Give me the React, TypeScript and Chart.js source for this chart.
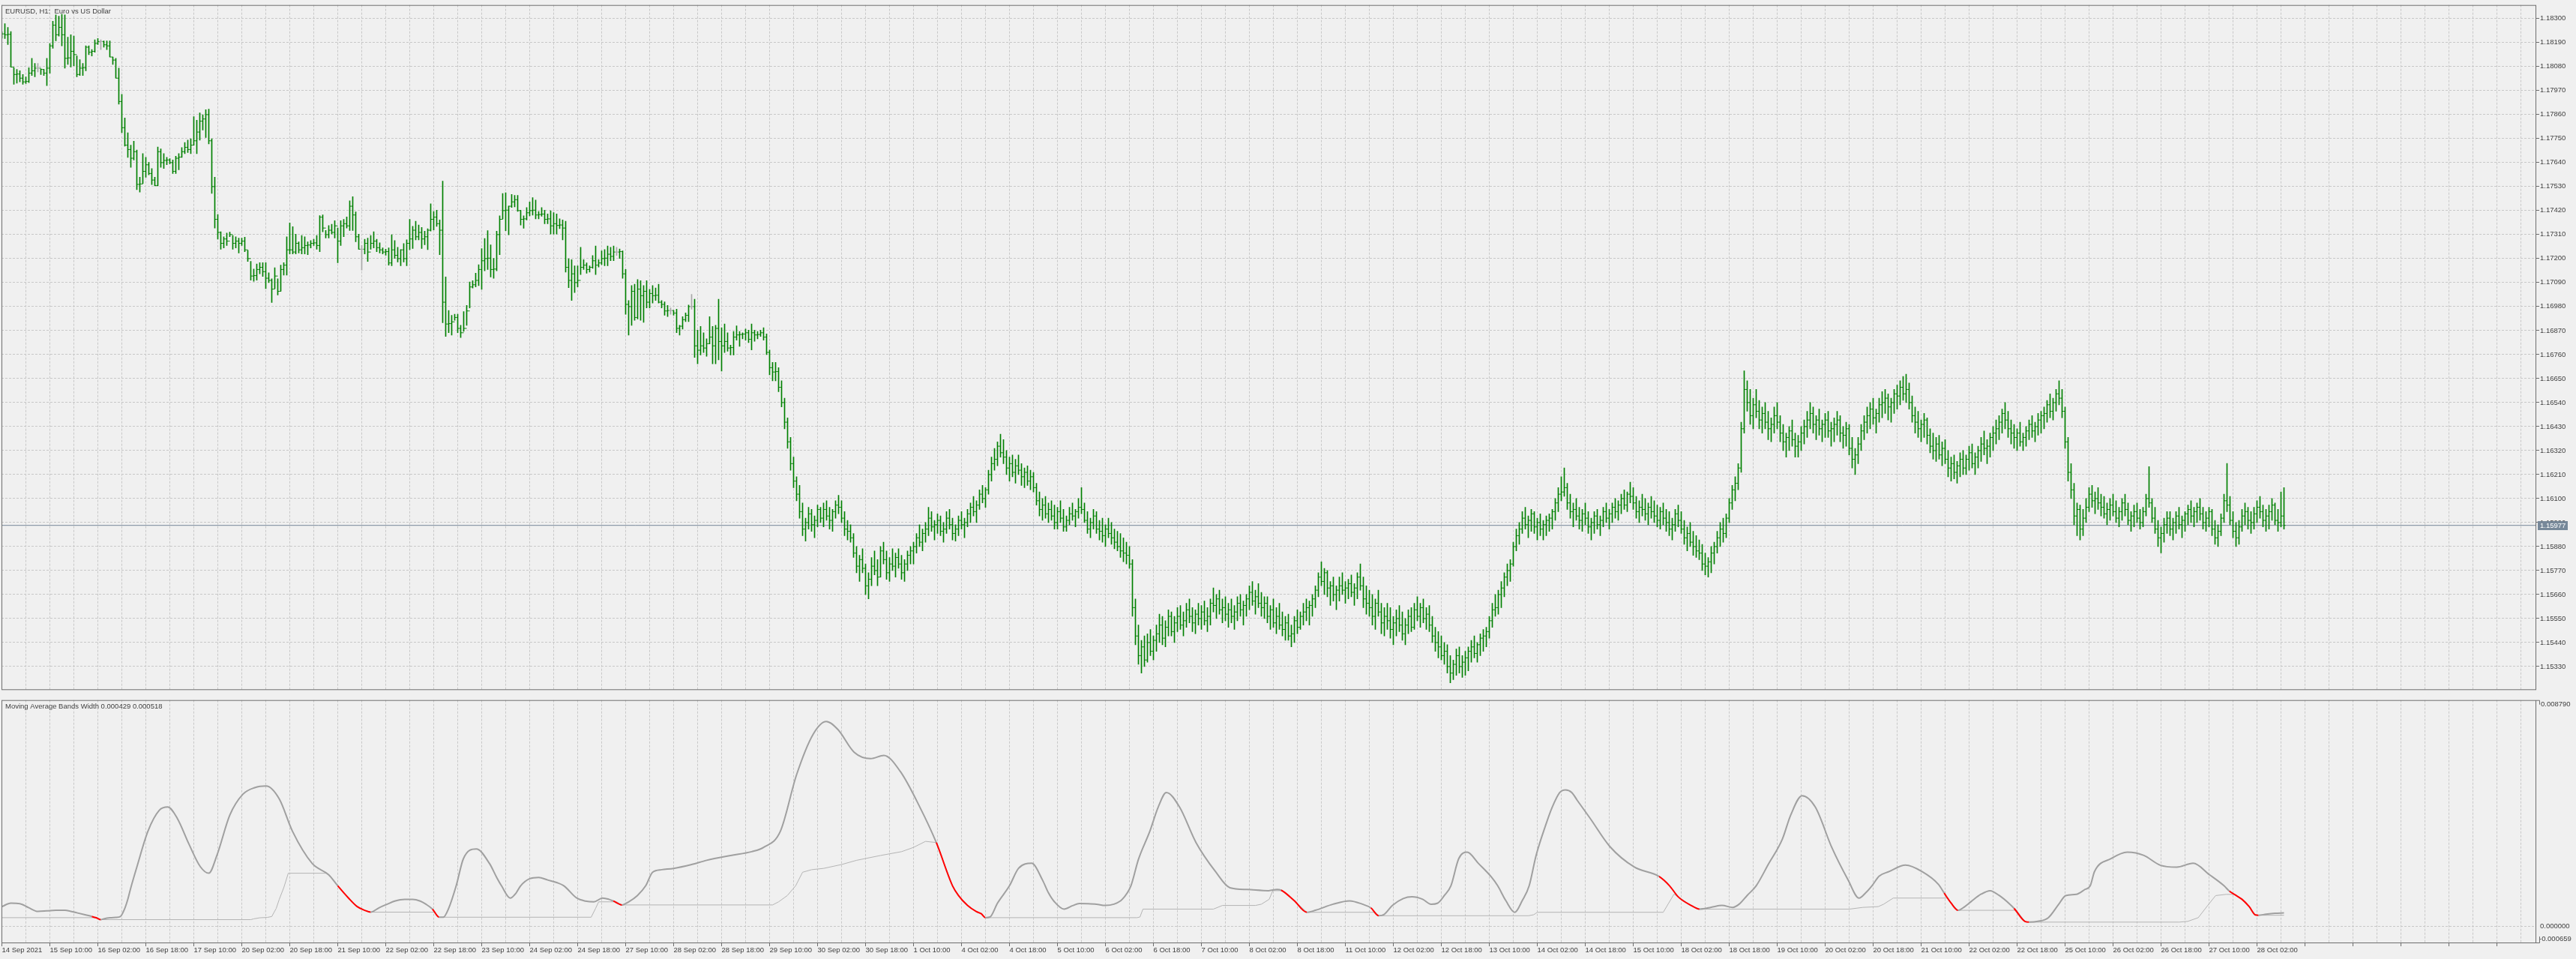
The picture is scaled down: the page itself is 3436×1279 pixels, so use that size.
import React, { useEffect, useRef } from "react";
import { Chart, registerables } from "chart.js";
Chart.register(...registerables);

const FONT = "'Liberation Sans', Arial, sans-serif";
const BG = "#f0f0f0";
const FRAME = "#6e6e6e";
const GRID = "#c8c8c8";
const TEXT = "#404040";
const BAR = "#008000";
const DOJI = "#a8a8a8";

// bar prices are stored in points (0.00001) above 1.15000; one bar per hour from 14 Sep 18:00
const BASE = 1.15;
const highs = [3240,3277,3260,3241,3075,3067,3061,3044,3033,3075,3118,3095,3095,3070,3067,3118,3186,3288,3317,3311,3320,3317,3215,3226,3220,3129,3112,3095,3175,3175,3158,3203,3209,3203,3198,3198,3198,3124,3118,3073,2953,2845,2777,2720,2738,2698,2573,2681,2664,2641,2613,2573,2711,2703,2681,2664,2658,2652,2669,2681,2709,2732,2743,2749,2851,2834,2868,2859,2882,2885,2749,2573,2402,2323,2300,2317,2321,2306,2300,2294,2294,2298,2238,2187,2152,2175,2181,2181,2181,2135,2107,2158,2107,2170,2181,2300,2363,2346,2312,2277,2306,2300,2277,2283,2289,2306,2397,2400,2329,2351,2357,2374,2340,2374,2380,2391,2465,2484,2414,2312,2260,2289,2294,2306,2323,2289,2272,2249,2243,2249,
2309,2283,2252,2241,2269,2286,2380,2348,2371,2354,2343,2326,2337,2451,2416,2422,2377,2555,2116,1962,1940,1945,1945,1894,1957,1985,2093,2099,2133,2172,2246,2292,2328,2263,2201,2326,2396,2498,2502,2441,2494,2490,2490,2422,2396,2434,2460,2479,2468,2416,2434,2422,2405,2419,2411,2405,2382,2377,2371,2199,2195,2167,2167,2252,2195,2180,2167,2214,2258,2195,2235,2241,2258,2252,2258,2252,2244,2235,2150,2008,2076,2082,2104,2099,2076,2099,2059,2076,2065,2082,2008,2002,1985,1974,1962,1968,1894,1934,1951,1987,2036,2014,1872,1889,1860,1832,1934,1889,1894,2014,1883,1900,1860,1803,1866,1892,1866,1860,1877,1872,1900,1872,1866,1872,1883,1855,1781,1724,1724,
1700,1640,1560,1470,1380,1290,1200,1160,1080,1010,1060,1050,1020,1070,1060,1080,1090,1060,1050,1090,1115,1090,1040,1000,980,940,880,840,870,800,760,830,860,820,880,900,860,830,870,850,870,840,820,860,880,900,940,980,960,990,1060,1040,1000,1030,1020,990,1040,1050,1010,980,1020,1040,1010,1050,1080,1110,1090,1140,1160,1150,1230,1290,1330,1360,1395,1370,1320,1290,1300,1280,1300,1260,1240,1250,1230,1220,1170,1130,1100,1110,1080,1090,1070,1060,1090,1050,1020,1060,1080,1050,1100,1150,1080,1040,1010,1050,1040,1000,1010,980,1010,990,960,950,940,920,900,880,820,640,520,450,470,480,500,470,520,570,560,540,590,580,560,
600,610,580,620,640,600,590,620,610,630,600,640,690,660,680,640,650,620,640,610,650,660,630,660,700,720,680,710,670,650,650,610,640,600,620,580,560,570,520,560,590,580,620,640,630,660,700,760,810,780,770,720,740,700,740,760,720,730,750,710,760,800,740,700,680,660,640,680,620,600,620,600,560,590,610,580,550,590,600,620,650,620,640,600,610,560,510,490,470,440,430,380,360,410,420,380,400,420,450,470,440,480,500,510,560,620,660,680,720,760,800,820,900,960,990,1040,1060,1020,1050,1040,1010,1030,1000,1020,1030,1050,1100,1150,1200,1240,1170,1120,1080,1100,1060,1050,1080,1040,1010,1040,1050,1020,1060,1080,1050,1080,1100,1090,1120,1140,1130,1175,1150,
1110,1090,1120,1100,1080,1110,1090,1070,1060,1080,1050,1040,1010,1050,1070,1040,1000,970,990,950,930,910,890,850,830,880,900,950,990,1010,1030,1100,1160,1200,1260,1450,1685,1640,1600,1560,1600,1550,1520,1540,1500,1470,1520,1540,1480,1440,1400,1430,1460,1400,1390,1430,1460,1500,1540,1520,1480,1510,1460,1490,1500,1450,1470,1500,1480,1430,1450,1440,1380,1330,1380,1440,1480,1520,1540,1560,1510,1560,1590,1600,1580,1560,1600,1620,1640,1660,1670,1630,1570,1520,1500,1460,1490,1470,1420,1400,1380,1390,1360,1370,1320,1290,1300,1270,1310,1320,1300,1340,1350,1310,1340,1380,1410,1370,1400,1430,1460,1480,1510,1540,1500,1460,1440,1420,1450,1400,1430,1460,1480,1450,1490,1500,1520,1550,1580,1560,1600,1640,1600,
1520,1380,1260,1170,1080,1070,1050,1100,1150,1160,1130,1150,1120,1110,1080,1100,1120,1090,1060,1100,1120,1080,1040,1070,1080,1050,1060,1120,1246,1100,1060,1000,970,1010,1040,1040,1010,1040,1060,1020,1040,1070,1090,1060,1080,1100,1060,1040,1060,1050,1000,980,1030,1120,1261,1110,1040,990,1000,1050,1080,1060,1040,1060,1090,1110,1070,1050,1070,1100,1080,1050,1130,1150];
const lows = [3210,3209,3181,3078,2999,3004,3010,2999,3002,3007,3039,3033,3056,3044,3039,2993,3050,3164,3198,3220,3175,3073,3090,3078,3084,3033,3039,3039,3061,3135,3129,3146,3181,3158,3169,3158,3124,3090,3027,2908,2777,2715,2664,2618,2652,2516,2505,2544,2573,2584,2539,2533,2533,2618,2613,2630,2635,2590,2590,2607,2664,2681,2686,2681,2720,2681,2743,2789,2755,2726,2499,2340,2289,2243,2249,2260,2300,2243,2249,2226,2260,2232,2187,2101,2096,2101,2130,2118,2062,2090,1999,2062,2033,2050,2124,2124,2221,2221,2221,2226,2221,2221,2218,2249,2260,2243,2232,2323,2294,2294,2312,2294,2181,2260,2300,2340,2329,2329,2277,2243,2147,2221,2187,2243,2249,2232,2226,2221,2215,2170,
2167,2201,2184,2167,2184,2167,2241,2246,2286,2286,2246,2263,2241,2326,2331,2348,2218,1906,1843,1860,1849,1917,1860,1838,1866,1894,1974,2065,2070,2076,2059,2144,2150,2116,2110,2144,2218,2382,2328,2309,2434,2437,2416,2354,2339,2377,2396,2399,2382,2382,2394,2360,2360,2312,2312,2312,2337,2286,2138,2067,2008,2044,2070,2127,2150,2133,2138,2155,2127,2161,2172,2167,2167,2190,2190,2214,2201,2110,1945,1849,1894,1917,1923,1917,1908,1974,1974,1996,2008,1996,1974,1940,1934,1945,1940,1860,1849,1877,1911,1911,1968,1747,1718,1758,1769,1752,1809,1718,1718,1736,1684,1769,1775,1758,1758,1826,1798,1832,1826,1815,1781,1821,1832,1843,1826,1760,1667,1640,1640,
1590,1520,1420,1330,1230,1150,1090,1010,930,905,960,950,920,970,990,970,1000,960,950,1010,1030,990,930,910,900,830,760,720,760,660,640,700,750,700,740,800,730,720,770,740,780,730,720,770,800,800,850,880,860,900,930,950,910,940,930,900,940,960,910,905,930,960,920,970,990,1020,990,1050,1080,1060,1120,1180,1230,1250,1290,1260,1210,1180,1200,1170,1210,1160,1150,1160,1140,1130,1070,1020,1000,1010,990,1000,960,960,990,950,950,980,1000,970,1010,1030,990,940,920,960,940,910,900,880,920,890,870,860,830,810,800,780,560,430,340,300,330,350,380,360,400,440,430,420,470,470,440,
490,500,470,510,530,490,480,520,500,520,490,520,580,550,570,530,540,510,530,500,540,560,520,560,590,610,570,600,560,550,530,500,510,480,500,470,450,450,420,440,480,500,520,540,520,560,600,650,700,660,650,610,630,590,630,660,620,640,650,610,640,680,600,570,560,520,500,560,480,470,500,460,430,470,490,450,430,480,490,500,540,510,530,500,490,440,400,370,360,340,300,255,270,290,300,280,290,310,350,370,350,380,400,420,460,510,560,570,600,650,700,720,790,860,890,940,960,920,950,940,910,930,910,930,950,960,1000,1040,1090,1110,1050,1010,970,1000,960,950,980,940,910,940,960,930,970,990,960,990,1010,1000,1030,1050,1040,1080,1050,
1010,990,1020,1000,980,1010,990,970,960,980,950,930,910,950,970,940,890,860,880,840,830,820,770,750,740,760,800,850,880,900,920,990,1050,1090,1140,1220,1400,1500,1440,1420,1470,1420,1400,1420,1370,1360,1400,1420,1360,1320,1290,1320,1340,1290,1290,1320,1350,1380,1420,1400,1370,1390,1360,1380,1380,1340,1360,1390,1360,1330,1340,1300,1240,1210,1260,1320,1370,1400,1420,1440,1400,1450,1470,1490,1460,1450,1490,1510,1530,1550,1540,1510,1450,1400,1380,1360,1380,1350,1310,1280,1270,1280,1250,1260,1200,1180,1190,1170,1200,1210,1210,1230,1240,1210,1240,1270,1300,1260,1290,1320,1350,1370,1400,1420,1380,1350,1330,1320,1340,1320,1340,1370,1380,1360,1390,1400,1420,1450,1470,1460,1500,1530,1470,
1330,1180,1100,980,930,910,930,990,1040,1060,1030,1050,1020,1010,980,1000,1020,990,970,1000,1020,980,950,970,990,960,970,1020,1060,990,940,880,851,900,940,930,910,940,960,920,950,980,990,970,990,1000,960,950,970,930,890,880,930,990,1040,980,920,880,890,950,980,960,940,960,990,1010,970,950,960,1000,980,950,970,960];
const closes = [3230,3226,3228,3078,3044,3046,3027,3010,3012,3050,3061,3073,3073,3067,3050,3073,3175,3270,3226,3260,3226,3118,3120,3150,3135,3044,3073,3075,3169,3146,3150,3186,3195,3195,3180,3175,3124,3110,3027,2920,2800,2720,2700,2660,2690,2540,2542,2600,2630,2590,2560,2535,2690,2640,2650,2652,2640,2600,2660,2665,2690,2710,2700,2720,2740,2780,2830,2840,2860,2740,2530,2380,2320,2270,2290,2280,2310,2270,2280,2270,2280,2240,2200,2120,2122,2150,2160,2140,2110,2100,2060,2120,2050,2150,2170,2240,2240,2230,2270,2240,2250,2260,2262,2270,2272,2260,2390,2340,2310,2330,2320,2350,2280,2350,2360,2350,2440,2400,2300,2243,2243,2270,2230,2270,2280,2250,2240,2230,2232,2180,
2240,2215,2200,2240,2200,2270,2290,2330,2300,2320,2290,2300,2330,2380,2390,2360,2330,2000,1900,1902,1910,1930,1880,1860,1880,1960,2070,2080,2100,2150,2190,2200,2202,2150,2152,2310,2380,2420,2422,2440,2460,2470,2420,2380,2382,2410,2420,2422,2400,2402,2404,2380,2382,2350,2360,2352,2354,2340,2160,2100,2130,2090,2100,2160,2170,2150,2160,2190,2170,2180,2200,2202,2220,2210,2230,2230,2232,2130,1990,1980,2050,1930,2060,2030,2050,2000,2040,2030,2032,2000,1990,1960,1962,1962,1950,1880,1890,1920,1940,1980,1980,1800,1780,1800,1790,1810,1840,1800,1880,1820,1800,1820,1790,1792,1840,1850,1852,1854,1860,1830,1860,1850,1852,1860,1840,1770,1700,1680,1682,
1610,1540,1450,1360,1260,1180,1120,1040,960,990,1030,980,1000,1050,1010,1050,1020,1000,1040,1070,1060,1010,960,950,920,850,790,820,780,700,730,790,770,740,860,820,760,800,790,830,800,760,800,840,860,880,920,900,940,960,1010,970,980,1000,950,960,1010,980,940,960,1000,980,990,1030,1060,1040,1070,1120,1100,1140,1210,1260,1280,1340,1310,1290,1240,1260,1220,1250,1230,1200,1220,1180,1200,1150,1090,1050,1070,1030,1050,1020,990,1040,1010,970,1000,1030,1020,1040,1060,1050,1000,960,990,1020,960,950,930,960,940,920,900,880,860,850,840,800,600,470,380,420,360,440,400,450,480,520,460,510,560,490,530,
560,520,540,590,560,530,570,550,580,540,560,620,610,640,590,600,570,590,560,580,620,590,610,640,670,630,650,620,600,620,560,590,530,560,520,500,530,470,480,540,510,560,580,600,610,640,680,740,720,760,690,700,660,680,700,680,690,710,670,690,740,700,640,620,600,560,620,580,530,560,540,500,530,550,520,480,520,560,510,590,560,600,550,570,520,470,440,420,380,400,330,300,340,380,330,350,370,400,420,390,430,460,470,490,540,590,600,660,690,740,770,800,880,930,960,1010,980,1000,1030,970,990,960,980,1000,1010,1040,1080,1120,1130,1150,1080,1040,1050,1020,1000,1030,1010,970,990,1020,980,1000,1040,1010,1030,1060,1040,1070,1100,1070,1120,1110,1080,
1040,1060,1050,1030,1060,1040,1020,1000,1040,1010,990,960,980,1030,1000,960,920,940,900,880,860,850,800,790,810,850,880,920,960,940,1010,1080,1140,1170,1240,1420,1600,1540,1480,1530,1500,1460,1490,1450,1420,1440,1480,1450,1400,1360,1380,1410,1370,1340,1360,1400,1430,1460,1490,1440,1460,1420,1440,1460,1410,1420,1440,1460,1400,1390,1420,1330,1280,1300,1350,1410,1450,1480,1510,1470,1490,1530,1540,1560,1520,1540,1580,1570,1610,1580,1600,1540,1480,1450,1420,1440,1460,1390,1340,1320,1350,1300,1330,1280,1240,1260,1220,1250,1280,1240,1280,1310,1260,1290,1320,1350,1330,1340,1380,1400,1420,1450,1490,1460,1420,1400,1380,1400,1360,1380,1410,1440,1410,1430,1460,1480,1490,1530,1500,1540,1580,1560,1500,
1360,1220,1140,1020,1050,960,1010,1060,1120,1090,1100,1080,1060,1030,1050,1070,1040,1010,1040,1080,1050,1000,1020,1040,1010,990,1040,1100,1080,1010,960,920,940,980,1010,960,990,1020,980,1000,1030,1050,1020,1040,1060,1030,990,1010,1040,960,920,950,1010,1090,1070,1000,950,920,970,1020,1040,1000,990,1030,1060,1040,1000,1020,1040,1070,1000,990,1020,977];
const dojiBars = [12, 33, 120, 205, 223, 230];

const lastPrice = 1.15977;
const priceTicks = [1.183,1.1819,1.1808,1.1797,1.1786,1.1775,1.1764,1.1753,1.1742,1.1731,1.172,1.1709,1.1698,1.1687,1.1676,1.1665,1.1654,1.1643,1.1632,1.1621,1.161,1.1599,1.1588,1.1577,1.1566,1.1555,1.1544,1.1533];
const timeLabels = ["14 Sep 2021","15 Sep 10:00","16 Sep 02:00","16 Sep 18:00","17 Sep 10:00","20 Sep 02:00","20 Sep 18:00","21 Sep 10:00","22 Sep 02:00","22 Sep 18:00","23 Sep 10:00","24 Sep 02:00","24 Sep 18:00","27 Sep 10:00","28 Sep 02:00","28 Sep 18:00","29 Sep 10:00","30 Sep 02:00","30 Sep 18:00","1 Oct 10:00","4 Oct 02:00","4 Oct 18:00","5 Oct 10:00","6 Oct 02:00","6 Oct 18:00","7 Oct 10:00","8 Oct 02:00","8 Oct 18:00","11 Oct 10:00","12 Oct 02:00","12 Oct 18:00","13 Oct 10:00","14 Oct 02:00","14 Oct 18:00","15 Oct 10:00","18 Oct 02:00","18 Oct 18:00","19 Oct 10:00","20 Oct 02:00","20 Oct 18:00","21 Oct 10:00","22 Oct 02:00","22 Oct 18:00","25 Oct 10:00","26 Oct 02:00","26 Oct 18:00","27 Oct 10:00","28 Oct 02:00"];

// indicator: bar position and value (millionths) of the band-width line, read at its turning points
const bandX = [0,3,6,9,12,15,18,21,23,25,28,30,31.5,33,34,36,38,39.5,41,42,43,45,48.7,52.5,55.3,58.5,62.4,66.2,69,71.7,76,80.4,84.3,88.1,92.5,96.9,103.5,109,112,115.6,118.5,121,123,125.7,128.5,131,134.3,137,139.5,141.4,143.6,145.8,147.2,149,151.5,153.9,158.2,162.6,165,166.6,169.5,171.5,173,176,179,182,185,187.4,191.7,194.6,197.4,200.3,202.4,203.9,206.8,209,211.9,214.7,217,220,224,230,235,243,250,254,259.6,265,270.5,274.9,278.8,284.2,289.7,294.1,299.6,306.1,311.6,317,319,322,324.9,326.6,328,329.5,332,336,339,343.4,347,349,351,354.2,357,359.3,362,365,367.9,370.8,373.6,376.5,379,382.8,385.6,388.3,392.7,398.2,404.7,409.5,415.2,422.4,425.2,426.6,430.9,435.2,438,443.9,449.4,453.7,456.5,459.1,460.8,463.7,467.3,470.2,473.8,476.6,478.8,481,483.2,485.8,488.6,492.4,496.8,498.8,501.5,504.5,507,509.3,511.6,515,517,519.5,521.4,523.5,525.3,529.6,536.2,544.4,552.6,556.1,559,563.3,566.1,570,573.6,577.2,579.3,582,585,589,593.7,596.5,600.3,604.7,610.2,615.6,619.3,621.5,623.6,626,629.3,634.8,640.3,645.8,647.7,650,652.3,654.5,656.6,660,663,666,669.6,671,674.6,676,678.9,682.4,685.9,688.2,691.7,694.6,696.4,697.8,703.3,708.8,714.3,719.7,725.2,730.7,736.2,741,742.8,745,747,749.4,751.5,752.5,755,758,761];
const bandW = [764,900,880,720,580,600,625,620,580,525,440,382,330,258,290,330,345,380,700,1050,1500,2300,3693,4509,4634,4195,3191,2313,2062,2752,4320,5135,5386,5449,4947,3693,2439,2000,1575,1098,764,620,550,716,859,980,1049,1049,980,859,668,353,353,700,1575,2627,3003,2439,1900,1575,1098,1300,1575,1850,1900,1800,1700,1575,1098,982,950,1098,1050,982,830,950,1193,1575,2100,2200,2250,2400,2564,2752,2900,3066,3693,5889,7457,7958,7645,6767,6516,6642,6015,4634,3254,1575,1194,810,573,487,335,360,900,1575,2250,2450,1800,1300,950,668,800,887,880,859,810,859,1049,1575,2600,3693,4634,5199,4634,3254,2125,1498,1431,1384,1431,1403,1002,544,621,859,990,859,716,411,449,810,1078,1145,1049,859,900,1193,1575,2627,2878,2439,1900,1575,1000,544,1000,1575,2752,4000,4634,5200,5300,5200,4900,4200,3100,2300,1937,1575,1144,810,668,740,810,735,859,1200,1575,2400,3380,4320,5073,4634,3066,1812,1097,1300,1575,1950,2125,2376,2125,1625,1288,900,621,760,954,1250,1384,1200,859,697,191,162,191,334,859,1193,1240,1431,1575,2125,2627,2878,2752,2376,2300,2450,2000,1575,1365,1200,1049,764,440,429,470,505,518];
// lower line: bar position and value (millionths)
const floorX = [0,31.5,33,83,84,86,88.5,90,91.5,92.5,94,95.5,108.3,109,112,115.6,118.5,121,123,144.2,145.8,196.5,198,199,205,206.8,257,259,261.9,264.7,267,270,274,280,285,293,300,304,308,311.6,317,319,322,324.9,326.6,328,378.5,379.5,380.5,404,407,418,420,422.6,423.8,427,430.9,435.2,458,459.1,509.1,510.8,512,554,557.6,559,563.3,566.1,616.1,620.6,625.7,627.5,630.7,649,650,652.3,671.8,674.6,676,726,728.9,732.4,735.9,738.2,741.7,744.5,745,747,749.4,751.5,752.5,761];
const floorW = [335,335,258,258,290,330,345,380,700,1050,1500,2062,2062,2000,1575,1098,764,620,550,550,353,353,700,950,950,830,830,950,1193,1575,2100,2200,2250,2400,2564,2752,2900,3066,3300,3254,1575,1194,810,573,487,335,335,360,668,668,810,810,859,1049,1384,1384,1002,544,544,411,411,449,544,544,1250,1144,810,668,668,735,764,859,1097,1097,900,621,621,191,162,162,191,334,859,1193,1240,1240,1200,1049,764,440,429,429];
// stretches (bar positions) where the band-width line is drawn red
const redRanges = [[30,33],[112,123],[143.6,145.8],[203.9,206.8],[311.6,328],[426.6,435.2],[456.5,459.1],[552.6,566.1],[647.7,652.3],[671,676],[742.8,752.5]];
const indTitle = "Moving Average Bands Width 0.000429 0.000518";
const indMax = 0.00879;
const indMin = -0.000659;

const X_MIN = -0.125;
const X_MAX = X_MIN + 3381 / 4;
const Y_MAX = 1.183623;
const Y_MIN = 1.152222;
const gridTicks = Array.from({ length: 106 }, (_, k) => ({ value: k * 8 }));

const px = (v: number) => BASE + v / 100000;

export default function App() {
  const mainRef = useRef<HTMLCanvasElement>(null);
  const indRef = useRef<HTMLCanvasElement>(null);

  useEffect(() => {
    document.body.style.margin = "0";
    document.body.style.background = BG;
    const n = Math.min(highs.length, lows.length, closes.length);
    const colors = Array.from({ length: n }, (_, i) => (dojiBars.includes(i) ? DOJI : BAR));
    const hl = Array.from({ length: n }, (_, i) => ({ x: i, y: [px(lows[i]), px(highs[i])] }));
    const openPts = Array.from({ length: n }, (_, i) => ({ x: i - 0.25, y: px(i === 0 ? closes[0] : closes[i - 1]) }));
    const closePts = Array.from({ length: n }, (_, i) => ({ x: i + 0.25, y: px(closes[i]) }));

    const framePlugin = (id: string, title: string, extra?: (c: any) => void) => ({
      id,
      afterDraw(chart: any) {
        const { ctx, chartArea: a } = chart;
        ctx.save();
        ctx.strokeStyle = FRAME;
        ctx.lineWidth = 1;
        ctx.strokeRect(a.left + 0.5, a.top + 0.5, a.right - a.left - 1, a.bottom - a.top - 1);
        ctx.fillStyle = TEXT;
        ctx.font = "9.5px " + FONT;
        ctx.textBaseline = "middle";
        ctx.textAlign = "left";
        ctx.fillText(title, a.left + 5, a.top + 8.5);
        if (extra) extra(chart);
        ctx.restore();
      },
    });

    const common = {
      animation: false as const,
      responsive: false,
      events: [] as any[],
      plugins: { legend: { display: false }, tooltip: { enabled: false } },
    };

    const main = new Chart(mainRef.current!, {
      type: "bar",
      data: {
        datasets: [
          { type: "line", data: [{ x: X_MIN, y: lastPrice }, { x: X_MAX, y: lastPrice }], borderColor: "#778899", borderWidth: 1, pointRadius: 0, order: 4 } as any,
          { type: "bar", data: hl, backgroundColor: colors, borderWidth: 0, barThickness: 1, order: 3 } as any,
          { type: "scatter", data: openPts, pointStyle: "line", pointRadius: 1, pointHoverRadius: 1, borderColor: colors, borderWidth: 1, order: 2 } as any,
          { type: "scatter", data: closePts, pointStyle: "line", pointRadius: 1, pointHoverRadius: 1, borderColor: colors, borderWidth: 1, order: 1 } as any,
        ],
      },
      options: {
        ...common,
        layout: { padding: { top: 2, left: 2, right: 0, bottom: 2 } },
        scales: {
          x: {
            type: "linear", min: X_MIN, max: X_MAX, offset: false,
            grid: { color: GRID, drawTicks: false, offset: false },
            border: { display: false, dash: [3, 2] },
            ticks: { display: false },
            afterBuildTicks: (s: any) => { s.ticks = gridTicks.map((t) => ({ ...t })); },
            afterFit: (s: any) => { s.height = 0; },
          },
          y: {
            type: "linear", position: "right", min: Y_MIN, max: Y_MAX,
            grid: { color: GRID, tickLength: 4, tickColor: FRAME },
            border: { display: false, dash: [3, 2] },
            ticks: { callback: (v: any) => Number(v).toFixed(5), font: { family: FONT, size: 9.5 }, color: TEXT, padding: 1, autoSkip: false },
            afterBuildTicks: (s: any) => { s.ticks = priceTicks.map((v) => ({ value: v })); },
            afterFit: (s: any) => { s.width = 53; },
          },
        },
      } as any,
      plugins: [
        framePlugin("frameMain", "EURUSD, H1:  Euro vs US Dollar", (chart: any) => {
          const { ctx } = chart;
          const y = chart.scales.y.getPixelForValue(lastPrice);
          ctx.fillStyle = "#778899";
          ctx.fillRect(3385, Math.round(y) - 6, 40, 12);
          ctx.fillStyle = "#ffffff";
          ctx.fillText(lastPrice.toFixed(5), 3388, Math.round(y));
        }),
      ],
    });

    const isRed = (a: number, b: number) => redRanges.some(([s, e]) => a >= s - 1e-6 && b <= e + 1e-6);
    const ind = new Chart(indRef.current!, {
      type: "line",
      data: {
        datasets: [
          {
            data: bandX.map((x, i) => ({ x, y: bandW[i] / 1e6 })), borderColor: "#a0a0a0", borderWidth: 2, pointRadius: 0, order: 1,
            cubicInterpolationMode: "monotone",
            segment: { borderColor: (c: any) => (isRed(c.p0.parsed.x, c.p1.parsed.x) ? "#ff0000" : undefined) },
          } as any,
          { data: floorX.map((x, i) => ({ x, y: floorW[i] / 1e6 })), borderColor: "#b4b4b4", borderWidth: 1, pointRadius: 0, tension: 0, order: 2 } as any,
        ],
      },
      options: {
        ...common,
        layout: { padding: { top: 0, left: 2, right: 0, bottom: 0 } },
        scales: {
          x: {
            type: "linear", min: X_MIN, max: X_MAX, offset: false,
            grid: { color: GRID, tickLength: 4, offset: false, tickColor: (c: any) => (c.tick && c.tick.value % 16 === 0 ? FRAME : "rgba(0,0,0,0)") },
            border: { display: false, dash: [3, 2] },
            ticks: {
              callback: (v: any) => (v % 16 === 0 && timeLabels[v / 16] ? timeLabels[v / 16] : ""),
              align: "start", autoSkip: false, maxRotation: 0, minRotation: 0, padding: 0,
              font: { family: FONT, size: 9.5 }, color: TEXT,
            },
            afterBuildTicks: (s: any) => { s.ticks = gridTicks.map((t) => ({ ...t })); },
            afterFit: (s: any) => { s.height = 21; },
          },
          y: {
            type: "linear", position: "right", min: indMin, max: indMax,
            grid: { color: GRID, tickLength: 4, tickColor: "rgba(0,0,0,0)" },
            border: { display: false, dash: [3, 2] },
            ticks: { callback: (v: any) => Number(v).toFixed(6), font: { family: FONT, size: 9.5 }, color: TEXT, padding: 1, autoSkip: false },
            afterBuildTicks: (s: any) => { s.ticks = [{ value: 0 }]; },
            afterFit: (s: any) => { s.width = 53; },
          },
        },
      } as any,
      plugins: [
        framePlugin("frameInd", indTitle, (chart: any) => {
          const { ctx, chartArea: a } = chart;
          ctx.fillStyle = TEXT;
          ctx.fillText(indMax.toFixed(6), a.right + 6, a.top + 6);
          ctx.fillText(indMin.toFixed(6), a.right + 4, a.bottom - 6);
          ctx.strokeStyle = FRAME;
          ctx.beginPath();
          ctx.moveTo(a.right, a.top + 0.5); ctx.lineTo(a.right + 4.5, a.top + 0.5); ctx.lineTo(a.right + 4.5, a.top + 6);
          ctx.moveTo(a.right + 4.5, a.bottom - 9); ctx.lineTo(a.right + 4.5, a.bottom - 0.5); ctx.lineTo(a.right, a.bottom - 0.5);
          ctx.stroke();
        }),
      ],
    });

    return () => { main.destroy(); ind.destroy(); };
  }, []);

  return (
    <div style={{ position: "absolute", left: 0, top: 0, width: 3436, height: 1279, background: BG }}>
      <canvas ref={mainRef} width={3436} height={927} style={{ position: "absolute", left: 0, top: 0, width: 3436, height: 927 }} />
      <canvas ref={indRef} width={3436} height={352} style={{ position: "absolute", left: 0, top: 927, width: 3436, height: 352 }} />
    </div>
  );
}
